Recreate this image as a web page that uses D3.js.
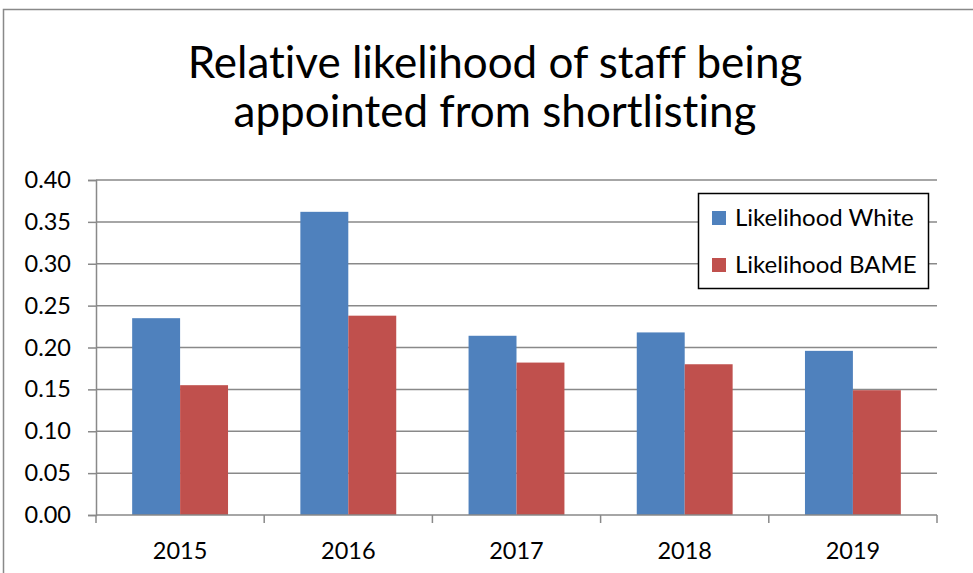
<!DOCTYPE html>
<html>
<head>
<meta charset="utf-8">
<script src="https://cdn.jsdelivr.net/npm/d3@7"></script>
<style>
  html, body { margin: 0; padding: 0; background: #fff; }
  svg { display: block; }
  text { font-family: Lato, "Open Sans", sans-serif; fill: #000; font-variant-ligatures: none; font-feature-settings: "liga" 0, "clig" 0; }
</style>
</head>
<body>
<svg id="chart" width="973" height="573"></svg>
<script>
// Chart data
const years = ["2015", "2016", "2017", "2018", "2019"];
const seriesNames = ["Likelihood White", "Likelihood BAME"];
const likelihoodWhite = [0.235, 0.362, 0.214, 0.218, 0.196];
const likelihoodBAME = [0.155, 0.238, 0.182, 0.180, 0.149];
const yTicks = [0, 0.05, 0.10, 0.15, 0.20, 0.25, 0.30, 0.35, 0.40];
const titleLines = ["Relative likelihood of staff being", "appointed from shortlisting"];
const colors = ["#4F81BD", "#C0504D"];

const svg = d3.select("#chart");
const gridColor = "#898989";

// Outer chart frame
svg.append("rect")
  .attr("x", 3.5).attr("y", 9.5)
  .attr("width", 1000).attr("height", 600)
  .attr("fill", "#fff")
  .attr("stroke", gridColor).attr("stroke-width", 1.5);

// Title
svg.append("g").selectAll("text")
  .data(titleLines)
  .join("text")
  .attr("x", 495)
  .attr("y", (d, i) => 78 + i * 49)
  .attr("text-anchor", "middle")
  .attr("font-size", 44)
  .text(d => d);

// Scales
const plot = { left: 96, right: 937, top: 180, bottom: 515 };
const y = d3.scaleLinear().domain([0, 0.4]).range([plot.bottom, plot.top]);
const x = d3.scaleBand().domain(years)
  .range([plot.left, plot.right])
  .paddingInner(0.43).paddingOuter(0.215);
const xSub = d3.scaleBand().domain(seriesNames).range([0, x.bandwidth()]);

// Horizontal gridlines
svg.append("g").selectAll("line")
  .data(yTicks.filter(t => t > 0))
  .join("line")
  .attr("x1", plot.left).attr("x2", plot.right)
  .attr("y1", d => y(d)).attr("y2", d => y(d))
  .attr("stroke", gridColor).attr("stroke-width", 1.5);

// Bars
const rows = years.map((yr, i) => ({ year: yr, values: [likelihoodWhite[i], likelihoodBAME[i]] }));
svg.append("g").selectAll("g")
  .data(rows)
  .join("g")
  .attr("transform", d => `translate(${x(d.year)},0)`)
  .selectAll("rect")
  .data(d => d.values.map((v, k) => ({ name: seriesNames[k], value: v, k })))
  .join("rect")
  .attr("x", d => xSub(d.name))
  .attr("width", xSub.bandwidth())
  .attr("y", d => y(d.value))
  .attr("height", d => y(0) - y(d.value))
  .attr("fill", d => colors[d.k]);

// Y axis
const yAxis = d3.axisLeft(y).tickValues(yTicks).tickFormat(d3.format(".2f")).tickSize(8).tickPadding(17);
const gy = svg.append("g").attr("transform", `translate(${plot.left},0)`).call(yAxis);
gy.select(".domain").attr("stroke", gridColor).attr("stroke-width", 1.5);
gy.selectAll(".tick line").attr("stroke", gridColor).attr("stroke-width", 1.5);
gy.selectAll(".tick text").attr("font-size", 23.5).attr("font-family", "Lato, sans-serif").attr("fill", "#000");

// X axis: baseline with ticks at category boundaries
const xAxisG = svg.append("g");
xAxisG.append("line")
  .attr("x1", plot.left).attr("x2", plot.right)
  .attr("y1", plot.bottom).attr("y2", plot.bottom)
  .attr("stroke", gridColor).attr("stroke-width", 1.5);
const boundaries = d3.range(years.length + 1).map(i => plot.left + i * x.step());
xAxisG.selectAll("line.tick")
  .data(boundaries)
  .join("line")
  .attr("class", "tick")
  .attr("x1", d => d).attr("x2", d => d)
  .attr("y1", plot.bottom).attr("y2", plot.bottom + 8)
  .attr("stroke", gridColor).attr("stroke-width", 1.5);
xAxisG.selectAll("text")
  .data(years)
  .join("text")
  .attr("x", d => x(d) + x.bandwidth() / 2)
  .attr("y", 558.5)
  .attr("text-anchor", "middle")
  .attr("font-size", 23.5)
  .text(d => d);

// Legend
const legend = svg.append("g");
legend.append("rect")
  .attr("x", 698.5).attr("y", 193.5)
  .attr("width", 230).attr("height", 95)
  .attr("fill", "#fff").attr("stroke", "#000").attr("stroke-width", 1.5);
const items = legend.selectAll("g.item")
  .data(seriesNames)
  .join("g")
  .attr("class", "item")
  .attr("transform", (d, i) => `translate(712,${211 + i * 47})`);
items.append("rect")
  .attr("width", 14).attr("height", 14)
  .attr("fill", (d, i) => colors[i]);
items.append("text")
  .attr("x", 23).attr("y", 7)
  .attr("dy", "0.35em")
  .attr("font-size", 24)
  .text(d => d);
</script>
</body>
</html>
